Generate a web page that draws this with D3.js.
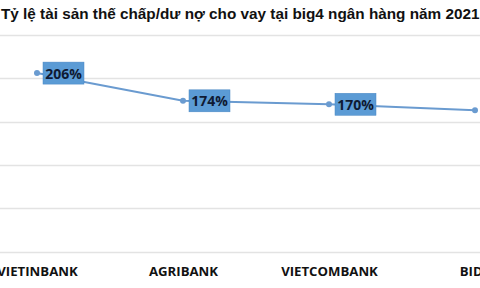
<!DOCTYPE html>
<html>
<head>
<meta charset="utf-8">
<script src="https://cdn.jsdelivr.net/npm/d3@7"></script>
<style>
  body { margin: 0; background: #fff; overflow: hidden; }
</style>
</head>
<body>
<div class="mainContainer"></div>
<script>
const title = "Tỷ lệ tài sản thế chấp/dư nợ cho vay tại big4 ngân hàng năm 2021";
const banks = ["VIETINBANK", "AGRIBANK", "VIETCOMBANK", "BIDV"];
const ratios = [206, 174, 170, 163];
const yTicks = [0, 50, 100, 150, 200, 250];

let width = 480;
let height = 288;

const svg = d3.select(".mainContainer")
  .append("svg")
  .attr("width", width)
  .attr("height", height);

// plot runs past the right edge, the picture is cropped
const x = d3.scalePoint().domain(banks).range([37, 475]);
const y = d3.scaleLinear().domain([0, 250]).range([251.5, 35]);

// gridlines
svg.append("g")
  .selectAll("line")
  .data(yTicks)
  .enter()
  .append("line")
  .attr("x1", 0)
  .attr("x2", width)
  .attr("y1", (d) => Math.round(y(d)) + 0.5)
  .attr("y2", (d) => Math.round(y(d)) + 0.5)
  .attr("stroke", "#e3e3e3")
  .attr("stroke-width", 1.5);

svg.append("text")
  .attr("x", 1)
  .attr("y", 19)
  .text(title)
  .style("font-family", "Liberation Sans, Arial, sans-serif")
  .style("font-weight", "bold")
  .style("font-size", "15.3px")
  .attr("fill", "#111");

// category axis, no line, no ticks
const xAxis = svg.append("g")
  .attr("transform", "translate(0,265)")
  .call(d3.axisBottom(x).tickSize(0).tickPadding(0));
xAxis.select(".domain").remove();
xAxis.selectAll("text")
  .attr("dy", "0.85em")
  .style("font-family", "Open Sans, sans-serif")
  .style("font-weight", "bold")
  .style("font-size", "13.2px")
  .attr("fill", "#111");

const line = d3.line()
  .x((d, i) => x(banks[i]))
  .y((d) => y(d));

svg.append("path")
  .datum(ratios)
  .attr("d", line)
  .attr("fill", "none")
  .attr("stroke", "#6a9bd0")
  .attr("stroke-width", 2);

svg.selectAll("circle.pt")
  .data(ratios)
  .enter()
  .append("circle")
  .attr("class", "pt")
  .attr("cx", (d, i) => x(banks[i]))
  .attr("cy", (d) => y(d))
  .attr("r", 3)
  .attr("fill", "#6a9bd0");

// data labels, boxed, to the right of each point
const labels = svg.selectAll("g.lbl")
  .data(ratios)
  .enter()
  .append("g")
  .attr("class", "lbl")
  .attr("transform", (d, i) => "translate(" + (x(banks[i]) + 6) + "," + y(d) + ")");

labels.append("rect")
  .attr("x", 0)
  .attr("y", -11)
  .attr("width", 41)
  .attr("height", 22)
  .attr("fill", "#5b9bd5")
  .attr("stroke", "#4a87c4")
  .attr("stroke-width", 0.5);

labels.append("text")
  .attr("x", 20.5)
  .attr("y", 0.5)
  .attr("dy", "0.36em")
  .text((d) => d + "%")
  .style("text-anchor", "middle")
  .style("font-family", "Open Sans, sans-serif")
  .style("font-weight", "bold")
  .style("font-size", "14px")
  .attr("fill", "#0f1a33");
</script>
</body>
</html>
